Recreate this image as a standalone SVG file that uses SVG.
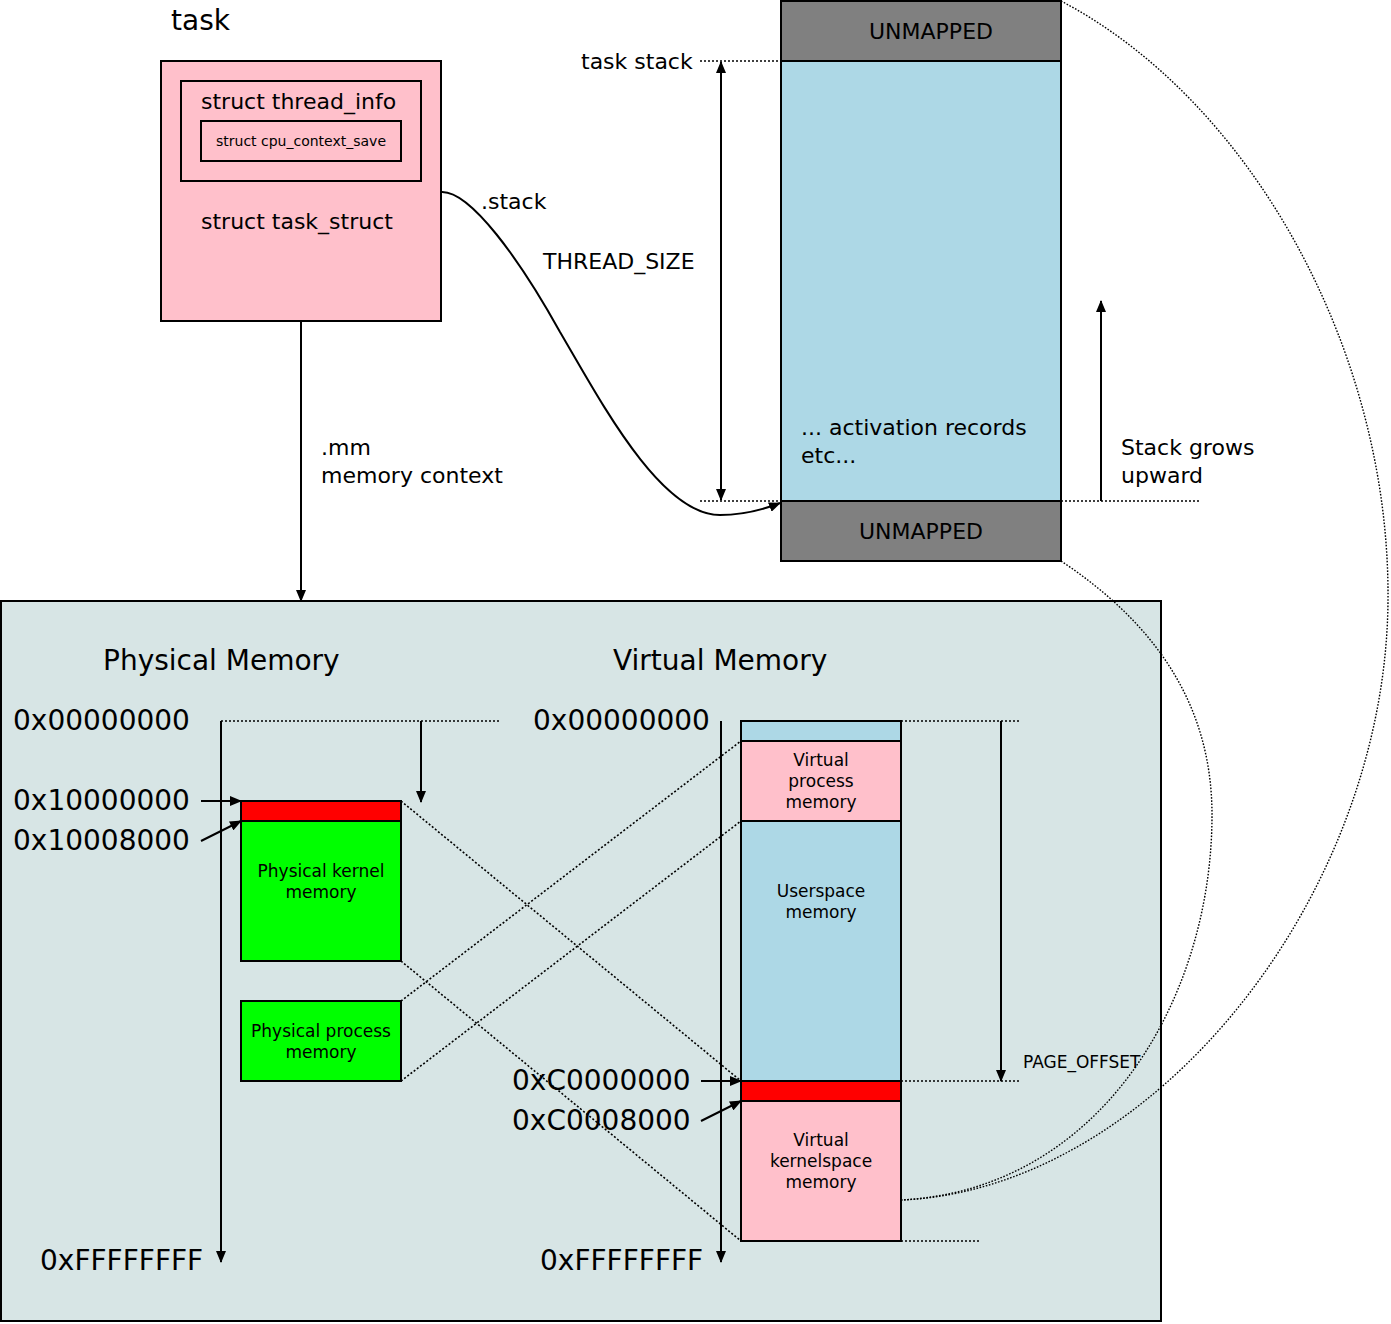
<svg xmlns="http://www.w3.org/2000/svg" width="1391" height="1324" viewBox="0 0 1391 1324">
<style>
text{font-family:"DejaVu Sans","Liberation Sans",sans-serif;fill:#000}
.b{stroke:#000;stroke-width:2}
.ln{stroke:#000;stroke-width:2;fill:none}
.dot{stroke:#000;stroke-width:1.6;stroke-dasharray:2 2;fill:none}
.dotc{stroke:#000;stroke-width:1.4;stroke-dasharray:1.6 1.6;fill:none}
.t28{font-size:28px}
.t22{font-size:22px}
.t17{font-size:17px;text-anchor:middle}
.c{text-anchor:middle}
</style>
<defs>
<marker id="ah" markerUnits="userSpaceOnUse" markerWidth="12" markerHeight="10" refX="11" refY="5" orient="auto-start-reverse" viewBox="0 0 12 10">
<path d="M0,0 L12,5 L0,10 z" fill="#000"/>
</marker>
</defs>
<rect width="1391" height="1324" fill="#fff"/>

<g id="task">
<text x="171" y="30" class="t28">task</text>
<rect x="161" y="61" width="280" height="260" fill="#ffc0cb" class="b"/>
<text x="201" y="229" class="t22">struct task_struct</text>
</g>
<g id="thread_info">
<rect x="181" y="81" width="240" height="100" fill="#ffc0cb" class="b"/>
<text x="201" y="109" class="t22">struct thread_info</text>
</g>
<g id="cpu_context_save">
<rect x="201" y="121" width="200" height="40" fill="#ffc0cb" class="b"/>
<text x="301" y="146" font-size="14" class="c">struct cpu_context_save</text>
</g>

<g id="stack">
<rect x="781" y="1" width="280" height="60" fill="#808080" class="b"/>
<text x="931" y="39" class="t22 c">UNMAPPED</text>
<rect x="781" y="61" width="280" height="440" fill="#add8e6" class="b"/>
<text x="801" y="435" class="t22">... activation records</text>
<text x="801" y="463" class="t22">etc...</text>
<rect x="781" y="501" width="280" height="60" fill="#808080" class="b"/>
<text x="921" y="539" class="t22 c">UNMAPPED</text>
</g>

<g id="memory">
<rect x="1" y="601" width="1160" height="720" fill="#d7e5e5" class="b"/>
<text x="103" y="670" class="t28">Physical Memory</text>
<text x="613" y="670" class="t28">Virtual Memory</text>
</g>

<g id="physical">
<text x="13" y="730" class="t28">0x00000000</text>
<text x="13" y="810" class="t28">0x10000000</text>
<text x="13" y="850" class="t28">0x10008000</text>
<text x="40" y="1270" class="t28">0xFFFFFFFF</text>
<rect x="241" y="801" width="160" height="20" fill="#ff0000" class="b"/>
<rect x="241" y="821" width="160" height="140" fill="#00ff00" class="b"/>
<text x="321" y="877" class="t17">Physical kernel</text>
<text x="321" y="898" class="t17">memory</text>
<rect x="241" y="1001" width="160" height="80" fill="#00ff00" class="b"/>
<text x="321" y="1037" class="t17">Physical process</text>
<text x="321" y="1058" class="t17">memory</text>
</g>

<g id="virtual">
<text x="533" y="730" class="t28">0x00000000</text>
<text x="512" y="1090" class="t28">0xC0000000</text>
<text x="512" y="1130" class="t28">0xC0008000</text>
<text x="540" y="1270" class="t28">0xFFFFFFFF</text>
<rect x="741" y="721" width="160" height="20" fill="#add8e6" class="b"/>
<rect x="741" y="741" width="160" height="80" fill="#ffc0cb" class="b"/>
<text x="821" y="766" class="t17">Virtual</text>
<text x="821" y="787" class="t17">process</text>
<text x="821" y="808" class="t17">memory</text>
<rect x="741" y="821" width="160" height="260" fill="#add8e6" class="b"/>
<text x="821" y="897" class="t17">Userspace</text>
<text x="821" y="918" class="t17">memory</text>
<rect x="741" y="1081" width="160" height="20" fill="#ff0000" class="b"/>
<rect x="741" y="1101" width="160" height="140" fill="#ffc0cb" class="b"/>
<text x="821" y="1146" class="t17">Virtual</text>
<text x="821" y="1167" class="t17">kernelspace</text>
<text x="821" y="1188" class="t17">memory</text>
<text x="1023" y="1068" font-size="17">PAGE_OFFSET</text>
</g>

<g id="labels">
<text x="481" y="209" class="t22">.stack</text>
<text x="543" y="269" class="t22">THREAD_SIZE</text>
<text x="581" y="69" class="t22">task stack</text>
<text x="1121" y="455" class="t22">Stack grows</text>
<text x="1121" y="483" class="t22">upward</text>
<text x="321" y="455" class="t22">.mm</text>
<text x="321" y="483" class="t22">memory context</text>
</g>

<g id="connectors">
<path class="ln" d="M441,192 C470,190 520,260 560,332 C600,400 660,515 720,515 C745,515 765,509 780,503" marker-end="url(#ah)"/>
<line class="ln" x1="301" y1="321" x2="301" y2="601" marker-end="url(#ah)"/>
<line class="dot" x1="700" y1="61" x2="781" y2="61"/>
<line class="dot" x1="700" y1="501" x2="781" y2="501"/>
<line class="dot" x1="1061" y1="501" x2="1200" y2="501"/>
<line class="ln" x1="721" y1="62" x2="721" y2="500" marker-start="url(#ah)" marker-end="url(#ah)"/>
<line class="ln" x1="1101" y1="501" x2="1101" y2="301" marker-end="url(#ah)"/>

<line class="dot" x1="221" y1="721" x2="500" y2="721"/>
<line class="ln" x1="221" y1="721" x2="221" y2="1262" marker-end="url(#ah)"/>
<line class="ln" x1="421" y1="721" x2="421" y2="802" marker-end="url(#ah)"/>
<line class="ln" x1="201" y1="801" x2="241" y2="801" marker-end="url(#ah)"/>
<line class="ln" x1="201" y1="841" x2="241" y2="821" marker-end="url(#ah)"/>

<line class="ln" x1="721" y1="721" x2="721" y2="1262" marker-end="url(#ah)"/>
<line class="dot" x1="901" y1="721" x2="1020" y2="721"/>
<line class="ln" x1="1001" y1="721" x2="1001" y2="1081" marker-end="url(#ah)"/>
<line class="dot" x1="901" y1="1081" x2="1020" y2="1081"/>
<line class="dot" x1="901" y1="1241" x2="980" y2="1241"/>
<line class="ln" x1="701" y1="1081" x2="741" y2="1081" marker-end="url(#ah)"/>
<line class="ln" x1="701" y1="1121" x2="741" y2="1101" marker-end="url(#ah)"/>

<line class="dot" x1="401" y1="801" x2="741" y2="1081"/>
<line class="dot" x1="401" y1="961" x2="741" y2="1241"/>
<line class="dot" x1="401" y1="1001" x2="741" y2="741"/>
<line class="dot" x1="401" y1="1081" x2="741" y2="821"/>

<path class="dotc" d="M1061,1 C1250,100 1390,350 1388,600 C1386,900 1150,1190 901,1200"/>
<path class="dotc" d="M1061,561 C1150,620 1212,700 1212,815 C1212,1000 1100,1190 901,1200"/>
</g>
</svg>
